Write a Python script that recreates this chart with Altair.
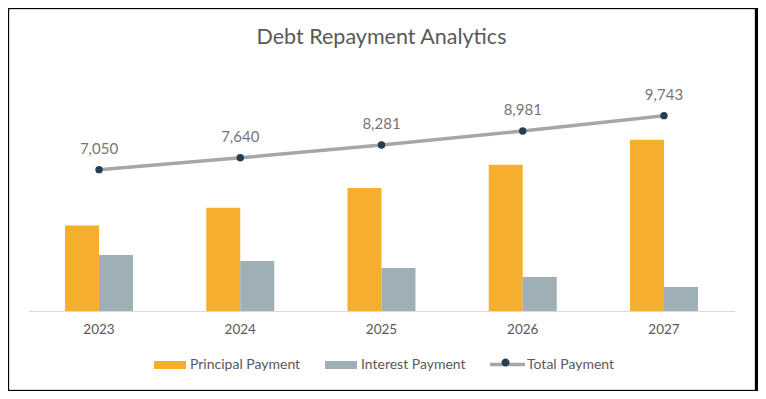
import altair as alt
import pandas as pd

years = ["2023", "2024", "2025", "2026", "2027"]
principal = [4260, 5150, 6140, 7290, 8540]
interest = [2790, 2490, 2141, 1691, 1203]
total = [7050, 7640, 8281, 8981, 9743]

series_bars = ["Principal Payment", "Interest Payment"]

bars_df = pd.DataFrame({
    "Year": years * 2,
    "Series": [series_bars[0]] * len(years) + [series_bars[1]] * len(years),
    "Value": principal + interest,
})
line_df = pd.DataFrame({"Year": years, "Series": ["Total Payment"] * len(years), "Value": total})

W, H = 745, 380
FONT = "Lato"
TXT = "#595959"

x_scale = alt.Scale(domain=years, range=[19.4, 725.6], paddingInner=0.5186, paddingOuter=0.2593)
y_scale = alt.Scale(domain=[0, 15062], range=[302, 0], nice=False, zero=True)

x_enc = alt.X(
    "Year:N", scale=x_scale,
    axis=alt.Axis(title=None, orient="bottom", offset=-78, ticks=False, grid=False,
                  domainColor="#d9d9d9", domainWidth=1, labelColor=TXT, labelFont=FONT,
                  labelFontSize=13.5, labelPadding=11, labelAngle=0),
)
y_enc = alt.Y("Value:Q", scale=y_scale, axis=None)

leg_common = dict(title=None, orient="none", direction="horizontal", padding=0,
                  labelFont=FONT, labelFontSize=14, labelColor=TXT)

bars = alt.Chart(bars_df).mark_bar().encode(
    x=x_enc,
    xOffset=alt.XOffset("Series:N", scale=alt.Scale(domain=series_bars, paddingInner=0, paddingOuter=0)),
    y=y_enc,
    color=alt.Color("Series:N", scale=alt.Scale(domain=series_bars, range=["#F5AE2E", "#9EAFB5"]),
                    legend=alt.Legend(legendX=145, legendY=340, symbolType="M-1,-0.25H1V0.25H-1Z",
                                      symbolSize=1024, symbolStrokeWidth=0, columnPadding=24,
                                      labelOffset=4, **leg_common)),
)

line = alt.Chart(line_df).mark_line(strokeWidth=3.5).encode(
    x=x_enc, y=y_enc,
    stroke=alt.Stroke("Series:N", scale=alt.Scale(domain=["Total Payment"], range=["#A6A6A6"]),
                      legend=alt.Legend(legendX=479, legendY=336, symbolType="M-1,0H1", symbolSize=1225,
                                        symbolStrokeWidth=3.5, labelOffset=0, **leg_common)),
)

dot_path = "M-0.229,0A0.229,0.229,0,1,1,0.229,0A0.229,0.229,0,1,1,-0.229,0Z"
points = alt.Chart(line_df).transform_calculate(dot="'dot'").mark_circle(size=55, opacity=1).encode(
    x=x_enc, y=y_enc,
    fill=alt.Fill("dot:N", scale=alt.Scale(domain=["dot"], range=["#243F4F"]),
                  legend=alt.Legend(legendX=479, legendY=336, symbolType=dot_path, symbolSize=1225,
                                    symbolStrokeWidth=0, labelExpr="''", labelOffset=0, **leg_common)),
)

labels = alt.Chart(line_df).mark_text(dy=-21, fontSize=15, font=FONT, color="#767676").encode(
    x=x_enc, y=y_enc, text=alt.Text("Value:Q", format=","),
)

chart = alt.layer(bars, line, points, labels).properties(
    width=W, height=H,
    title=alt.TitleParams("Debt Repayment Analytics", font=FONT, fontSize=21.5, fontWeight="normal",
                          color=TXT, anchor="middle", frame="group", offset=-39),
    padding={"left": 1, "top": 1, "right": 4, "bottom": 2},
    autosize=alt.AutoSizeParams(type="none"),
).configure(background="#000000").configure_view(fill="white", stroke="#d9d9d9", strokeWidth=1)

chart.save("out.html", embed_options={"renderer": "svg", "actions": False})
